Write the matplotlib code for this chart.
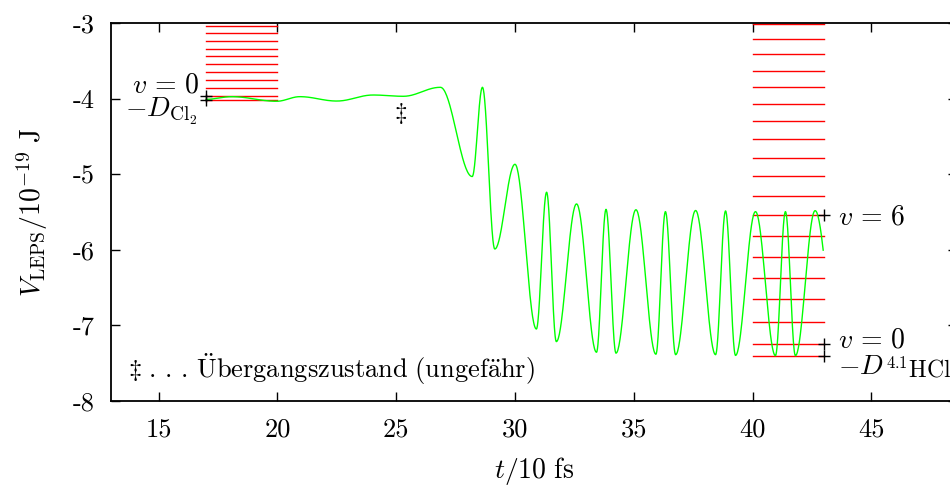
import numpy as np
import matplotlib

matplotlib.use("Agg")

import matplotlib.pyplot as plt

# green curve: extrema (t in 10 fs, V in 1e-19 J)
t_ext = [17.0, 18.08, 19.97, 20.95, 22.5, 24.03, 25.3, 26.86, 28.2, 28.63,
         29.15, 30.0, 30.9, 31.33, 31.74, 32.59, 33.43, 33.83, 34.25, 35.09,
         35.93, 36.33, 36.76, 37.6, 38.44, 38.86, 39.28, 40.12, 40.96, 41.38,
         41.8, 42.63, 43.6]
v_ext = [-4.007, -3.972, -4.033, -3.972, -4.03, -3.95, -3.967, -3.848, -5.03, -3.848,
         -5.99, -4.868, -7.05, -5.238, -7.217, -5.393, -7.358, -5.465, -7.37, -5.47,
         -7.384, -5.495, -7.39, -5.48, -7.39, -5.486, -7.40, -5.495, -7.403, -5.495,
         -7.403, -5.482, -7.40]
t_end = 42.97

# vibrational levels
cl2_levels = [-3.031, -3.133, -3.234, -3.336, -3.437, -3.539, -3.645, -3.751,
              -3.857, -3.963, -4.020]
hcl_levels = [-3.009, -3.212, -3.411, -3.627, -3.844, -4.069, -4.298, -4.532,
              -4.780, -5.023, -5.283, -5.543, -5.813, -6.091, -6.373, -6.656,
              -6.952, -7.252, -7.402]
cl2_span = (17.0, 20.0)
hcl_span = (40.0, 43.0)

# marked points
left_marks = [-3.963, -4.020]
right_marks = [-5.543, -7.252, -7.402]
ts_t, ts_v = 25.2, -4.19

xticks = [15, 20, 25, 30, 35, 40, 45]
yticks = [-3, -4, -5, -6, -7, -8]
ytick_labels = ["-3", "-4", "-5", "-6", "-7", "-8"]

TXT = ["cmr10", "DejaVu Serif"]
FS = 19


def eased_curve(tp, vp, n=40):
    xs, ys = [], []
    for i in range(len(tp) - 1):
        s = np.linspace(0, 1, n, endpoint=False)
        xs.append(tp[i] + s * (tp[i + 1] - tp[i]))
        ys.append(vp[i] + (vp[i + 1] - vp[i]) * (1 - np.cos(np.pi * s)) / 2)
    return np.concatenate(xs), np.concatenate(ys)


def main():
    plt.rcParams.update({"mathtext.fontset": "cm", "axes.unicode_minus": False})
    fig = plt.figure(figsize=(9.5, 4.86), dpi=100)
    ax = fig.add_axes([111 / 950, 85.3 / 486, 846 / 950, 377.4 / 486])

    for lv in cl2_levels:
        ax.plot(cl2_span, [lv, lv], color="#ff0000", lw=1.0, zorder=2)
    for lv in hcl_levels:
        ax.plot(hcl_span, [lv, lv], color="#ff0000", lw=1.0, zorder=2)

    x, y = eased_curve(t_ext, v_ext)
    keep = x <= t_end
    ax.plot(x[keep], y[keep], color="#00ff00", lw=1.0, zorder=3)

    ax.plot([cl2_span[0]] * len(left_marks), left_marks, "k+", ms=9, mew=1.0, zorder=4)
    ax.plot([hcl_span[1]] * len(right_marks), right_marks, "k+", ms=9, mew=1.0, zorder=4)
    ax.text(ts_t, ts_v, r"$\ddagger$", ha="center", va="center", fontsize=FS - 1)

    ax.text(16.74, -3.913, r"$v\,=\,0$", ha="right", va="baseline", fontsize=FS + 1)
    ax.text(16.66, -4.242, r"$-D_{\mathrm{Cl}_2}$", ha="right", va="baseline", fontsize=FS + 1)
    ax.text(43.59, -5.672, r"$v\,=\,6$", ha="left", va="baseline", fontsize=FS + 1)
    ax.text(43.59, -7.29, r"$v\,=\,0$", ha="left", va="baseline", fontsize=FS + 1)
    ax.text(43.59, -7.64, r"$-D$", ha="left", va="baseline", fontsize=FS + 1)
    ax.text(45.55, -7.69, r"${}^{4.1}\mathrm{HCl}$", ha="left", va="baseline",
            fontsize=FS - 2)
    ax.text(13.72, -7.59,
            r"$\ddagger\ .\,.\,.\,\mathrm{\ddot{U}bergangszustand\ (ungef\ddot{a}hr)}$",
            ha="left", va="center", fontsize=FS)

    ax.set_xlim(13, 48.6)
    ax.set_ylim(-8, -3)
    ax.set_xticks(xticks)
    ax.set_xticklabels([str(v) for v in xticks], family=TXT, fontsize=FS)
    ax.set_yticks(yticks)
    ax.set_yticklabels(ytick_labels, family=TXT, fontsize=FS)
    ax.tick_params(direction="in", length=6.5, width=1.0, top=True, right=True, pad=12)
    for sp in ax.spines.values():
        sp.set_linewidth(1.3)

    ax.set_xlabel(r"$t/10\ \mathrm{fs}$", fontsize=FS + 1, labelpad=10)
    ax.set_ylabel(r"$V_{\mathrm{LEPS}}/10^{-19}\ \mathrm{J}$", fontsize=FS + 1, labelpad=16)

    fig.savefig("out.png", dpi=100)


if __name__ == "__main__":
    main()
